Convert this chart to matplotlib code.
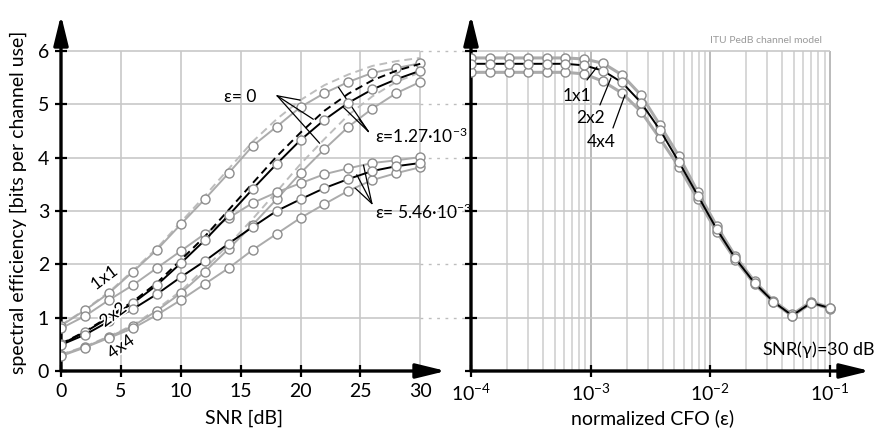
import matplotlib
matplotlib.use("Agg")
import matplotlib.pyplot as plt
import matplotlib.patheffects as pe
import numpy as np

plt.rcParams['font.family'] = ['Lato', 'DejaVu Sans']
plt.rcParams['mathtext.fontset'] = 'custom'
plt.rcParams['mathtext.rm'] = 'Lato'
plt.rcParams['mathtext.it'] = 'Lato:italic'
plt.rcParams['mathtext.default'] = 'regular'

# ---------------- data ----------------
snr_db = [0, 2, 4, 6, 8, 10, 12, 14, 16, 18, 20, 22, 24, 26, 28, 30]

# epsilon = 0 (dashed)
se_1x1_e0 = [0.86, 1.15, 1.48, 1.88, 2.30, 2.79, 3.28, 3.79, 4.30, 4.72, 5.08, 5.36, 5.56, 5.72, 5.81, 5.87]
se_2x2_e0 = [0.51, 0.74, 1.02, 1.30, 1.65, 2.08, 2.52, 3.02, 3.52, 4.02, 4.47, 4.88, 5.20, 5.45, 5.63, 5.76]
se_4x4_e0 = [0.31, 0.46, 0.65, 0.86, 1.16, 1.50, 1.92, 2.37, 2.85, 3.36, 3.88, 4.35, 4.80, 5.15, 5.42, 5.60]

# epsilon = 1.27e-3
se_1x1_e1 = [0.85, 1.14, 1.46, 1.86, 2.27, 2.75, 3.22, 3.71, 4.22, 4.58, 4.95, 5.21, 5.42, 5.59, 5.68, 5.77]
se_2x2_e1 = [0.50, 0.73, 1.00, 1.27, 1.61, 2.02, 2.45, 2.92, 3.41, 3.88, 4.33, 4.71, 5.03, 5.28, 5.47, 5.63]
se_4x4_e1 = [0.30, 0.45, 0.64, 0.84, 1.13, 1.46, 1.86, 2.29, 2.74, 3.22, 3.71, 4.16, 4.58, 4.92, 5.21, 5.42]

# epsilon = 5.46e-3
se_1x1_e2 = [0.80, 1.03, 1.33, 1.61, 1.93, 2.25, 2.57, 2.87, 3.15, 3.35, 3.52, 3.69, 3.80, 3.90, 3.95, 4.01]
se_2x2_e2 = [0.49, 0.68, 0.93, 1.16, 1.44, 1.76, 2.06, 2.39, 2.70, 3.00, 3.22, 3.43, 3.60, 3.75, 3.84, 3.90]
se_4x4_e2 = [0.28, 0.44, 0.62, 0.80, 1.05, 1.33, 1.63, 1.93, 2.27, 2.57, 2.87, 3.13, 3.38, 3.58, 3.71, 3.82]

# right panel: spectral efficiency vs normalized CFO at SNR = 30 dB
cfo = [1.00e-4, 1.44e-4, 2.07e-4, 2.98e-4, 4.28e-4, 6.16e-4, 8.86e-4, 1.27e-3, 1.83e-3, 2.64e-3,
       3.79e-3, 5.46e-3, 7.85e-3, 1.13e-2, 1.62e-2, 2.34e-2, 3.36e-2, 4.83e-2, 6.95e-2, 1.00e-1]
cfo_1x1 = [5.87, 5.87, 5.87, 5.87, 5.87, 5.87, 5.85, 5.77, 5.55, 5.17, 4.61, 4.03, 3.36, 2.72, 2.15, 1.68, 1.32, 1.06, 1.30, 1.19]
cfo_2x2 = [5.76, 5.76, 5.76, 5.76, 5.76, 5.76, 5.73, 5.63, 5.41, 5.03, 4.52, 3.92, 3.29, 2.66, 2.11, 1.65, 1.30, 1.04, 1.28, 1.18]
cfo_4x4 = [5.60, 5.60, 5.60, 5.60, 5.60, 5.60, 5.57, 5.43, 5.21, 4.86, 4.36, 3.83, 3.22, 2.61, 2.08, 1.63, 1.29, 1.03, 1.27, 1.17]

snr_ticks = [0, 5, 10, 15, 20, 25, 30]
se_ticks = [0, 1, 2, 3, 4, 5, 6]
cfo_ticks = [1e-4, 1e-3, 1e-2, 1e-1]

# ---------------- style ----------------
LG = '#ababab'   # light gray lines
MK = '#8c8c8c'   # marker edge
GRID = '#c8c8c8'
FS_TICK = 14
FS_LAB = 14
FS_ANN = 12.5

fig = plt.figure(figsize=(8.79, 4.36), dpi=100)
W, H = 879.0, 436.0

ax1 = fig.add_axes([61 / W, 65 / H, (446 - 61) / W, (371 - 15) / H])
ax2 = fig.add_axes([471 / W, 65 / H, (870 - 471) / W, (371 - 15) / H])

ax1.set_xlim(0, 32.15)
ax1.set_ylim(0, 6.675)
ax2.set_xscale('log')
ax2.set_xlim(1e-4, 10 ** (-1 + 40 / 119.7))
ax2.set_ylim(0, 6.675)

for ax in (ax1, ax2):
    for s in ax.spines.values():
        s.set_visible(False)
    ax.patch.set_alpha(0)
    ax.annotate('', xy=(0, 1), xytext=(0, 0), xycoords='axes fraction',
                arrowprops=dict(arrowstyle='-|>,head_length=0.9,head_width=0.22', lw=2.4,
                                color='black', shrinkA=0, shrinkB=0, mutation_scale=20))
    ax.annotate('', xy=(1, 0), xytext=(0, 0), xycoords='axes fraction',
                arrowprops=dict(arrowstyle='-|>,head_length=0.9,head_width=0.22', lw=2.4,
                                color='black', shrinkA=0, shrinkB=0, mutation_scale=20))
    ax.tick_params(direction='inout', length=9, width=1.6, labelsize=FS_TICK, color='black', pad=4)

# ---- left panel grid ----
ax1.set_xticks(snr_ticks)
ax1.set_yticks(se_ticks)
ax1.vlines(snr_ticks[1:], 0, se_ticks[-1], color=GRID, lw=1.2, zorder=0)
ax1.hlines(se_ticks[1:], 0, snr_ticks[-1], color=GRID, lw=1.2, zorder=0)

# ---- right panel grid ----
ax2.set_xticks(cfo_ticks)
ax2.set_xticks([], minor=True)
ax2.set_yticks(se_ticks)
ax2.tick_params(axis='y', labelleft=False)
minor_lines = []
for d in cfo_ticks[:-1]:
    for m in range(2, 10):
        minor_lines.append(d * m)
ax2.vlines(minor_lines, 0, se_ticks[-1], color='#d4d4d4', lw=1.3, zorder=0)
ax2.vlines(cfo_ticks[1:], 0, se_ticks[-1], color='#b4b4b4', lw=1.3, zorder=0)
ax2.hlines(se_ticks[1:], cfo_ticks[0], cfo_ticks[-1], color=GRID, lw=1.2, zorder=0)

# dotted connectors between panels
fig.canvas.draw()
x_disp = ax2.transAxes.transform((0, 0))[0]
x_conn = ax1.transData.inverted().transform((x_disp, 0))[0]
ax1.hlines(se_ticks[1:], snr_ticks[-1], x_conn, color='#bdbdbd', lw=1.0,
           linestyles=(0, (2, 4)), clip_on=False, zorder=0)

# ---- left panel curves ----
dash = (0, (4, 2.5))
ax1.plot(snr_db, se_1x1_e0, color='#bdbdbd', lw=1.4, ls=dash, zorder=2)
ax1.plot(snr_db, se_4x4_e0, color='#bdbdbd', lw=1.4, ls=dash, zorder=2)
ax1.plot(snr_db, se_2x2_e0, color='black', lw=1.4, ls=dash, zorder=4)

mk = dict(marker='o', markersize=6.5, markerfacecolor='white', markeredgecolor=MK, markeredgewidth=1.0)
for ys in (se_1x1_e1, se_4x4_e1, se_1x1_e2, se_4x4_e2):
    ax1.plot(snr_db, ys, color=LG, lw=1.4, zorder=3, **mk)
for ys in (se_2x2_e1, se_2x2_e2):
    ax1.plot(snr_db, ys, color='black', lw=1.4, zorder=5, **mk)

# ---- right panel curves ----
ax2.plot(cfo, cfo_1x1, color=LG, lw=2.2, zorder=3, **mk)
ax2.plot(cfo, cfo_4x4, color=LG, lw=2.2, zorder=3, **mk)
ax2.plot(cfo, cfo_2x2, color='black', lw=1.4, zorder=5, **mk)

# ---- labels ----
ax1.set_xlabel('SNR [dB]', fontsize=FS_LAB, va='center')
ax1.xaxis.set_label_coords(0.475, -0.132)
ax1.set_ylabel('spectral efficiency [bits per channel use]', fontsize=FS_LAB, va='center')
ax1.yaxis.set_label_coords(-0.112, 0.475)
ax2.set_xlabel('normalized CFO (ε)', fontsize=FS_LAB, va='center')
ax2.xaxis.set_label_coords(0.456, -0.132)

# annotations left
halo = [pe.withStroke(linewidth=2.5, foreground='white')]
ann_kw = dict(arrowprops=dict(arrowstyle='-', lw=0.9, color='black', shrinkA=0, shrinkB=0))
ax1.text(16.3, 5.13, 'ε= 0', fontsize=FS_ANN, ha='right', va='center')
for end in [(19.97, 5.08), (21.07, 4.72), (21.6, 4.27)]:
    ax1.annotate('', xy=end, xytext=(18.05, 5.16), **ann_kw)

ax1.text(26.2, 4.40, 'ε=1.27·10$^{-3}$', fontsize=FS_ANN, ha='left', va='center', clip_on=False)
for end in [(23.17, 5.32), (23.6, 4.94), (24.9, 4.72)]:
    ax1.annotate('', xy=end, xytext=(25.67, 4.49), **ann_kw)

ax1.text(26.2, 2.98, 'ε= 5.46·10$^{-3}$', fontsize=FS_ANN, ha='left', va='center', clip_on=False)
for end in [(25.26, 3.86), (24.7, 3.68), (24.56, 3.43)]:
    ax1.annotate('', xy=end, xytext=(25.96, 3.14), **ann_kw)

ax1.text(3.6, 1.74, '1x1', fontsize=FS_ANN, rotation=37, ha='center', va='center', zorder=10, path_effects=halo)
ax1.text(4.35, 1.05, '2x2', fontsize=FS_ANN, rotation=37, ha='center', va='center', zorder=10, path_effects=halo)
ax1.text(5.0, 0.45, '4x4', fontsize=FS_ANN, rotation=35, ha='center', va='center', zorder=10, path_effects=halo)

# annotations right
ax2.text(0.0858, 6.19, 'ITU PedB channel model', fontsize=7.5, color='#9a9a9a', ha='right', va='center')
ax2.text(0.238, 0.40, 'SNR($\\gamma$)=30 dB', fontsize=13, ha='right', va='center', clip_on=False)

def px2x(px):
    return 10 ** (-4 + (px - 471) / 119.7)

def py2y(py):
    return (371 - py) / 53.33

ax2.text(px2x(577), py2y(96), '1x1', fontsize=FS_ANN, ha='center', va='center')
ax2.text(px2x(591), py2y(118), '2x2', fontsize=FS_ANN, ha='center', va='center')
ax2.text(px2x(601), py2y(142), '4x4', fontsize=FS_ANN, ha='center', va='center')
for (a, b) in [((587, 80), (597, 67)), ((600, 105), (611, 78)), ((613, 128), (625, 95))]:
    ax2.annotate('', xy=(px2x(b[0]), py2y(b[1])), xytext=(px2x(a[0]), py2y(a[1])), **ann_kw)

fig.savefig('out.png', dpi=100)
